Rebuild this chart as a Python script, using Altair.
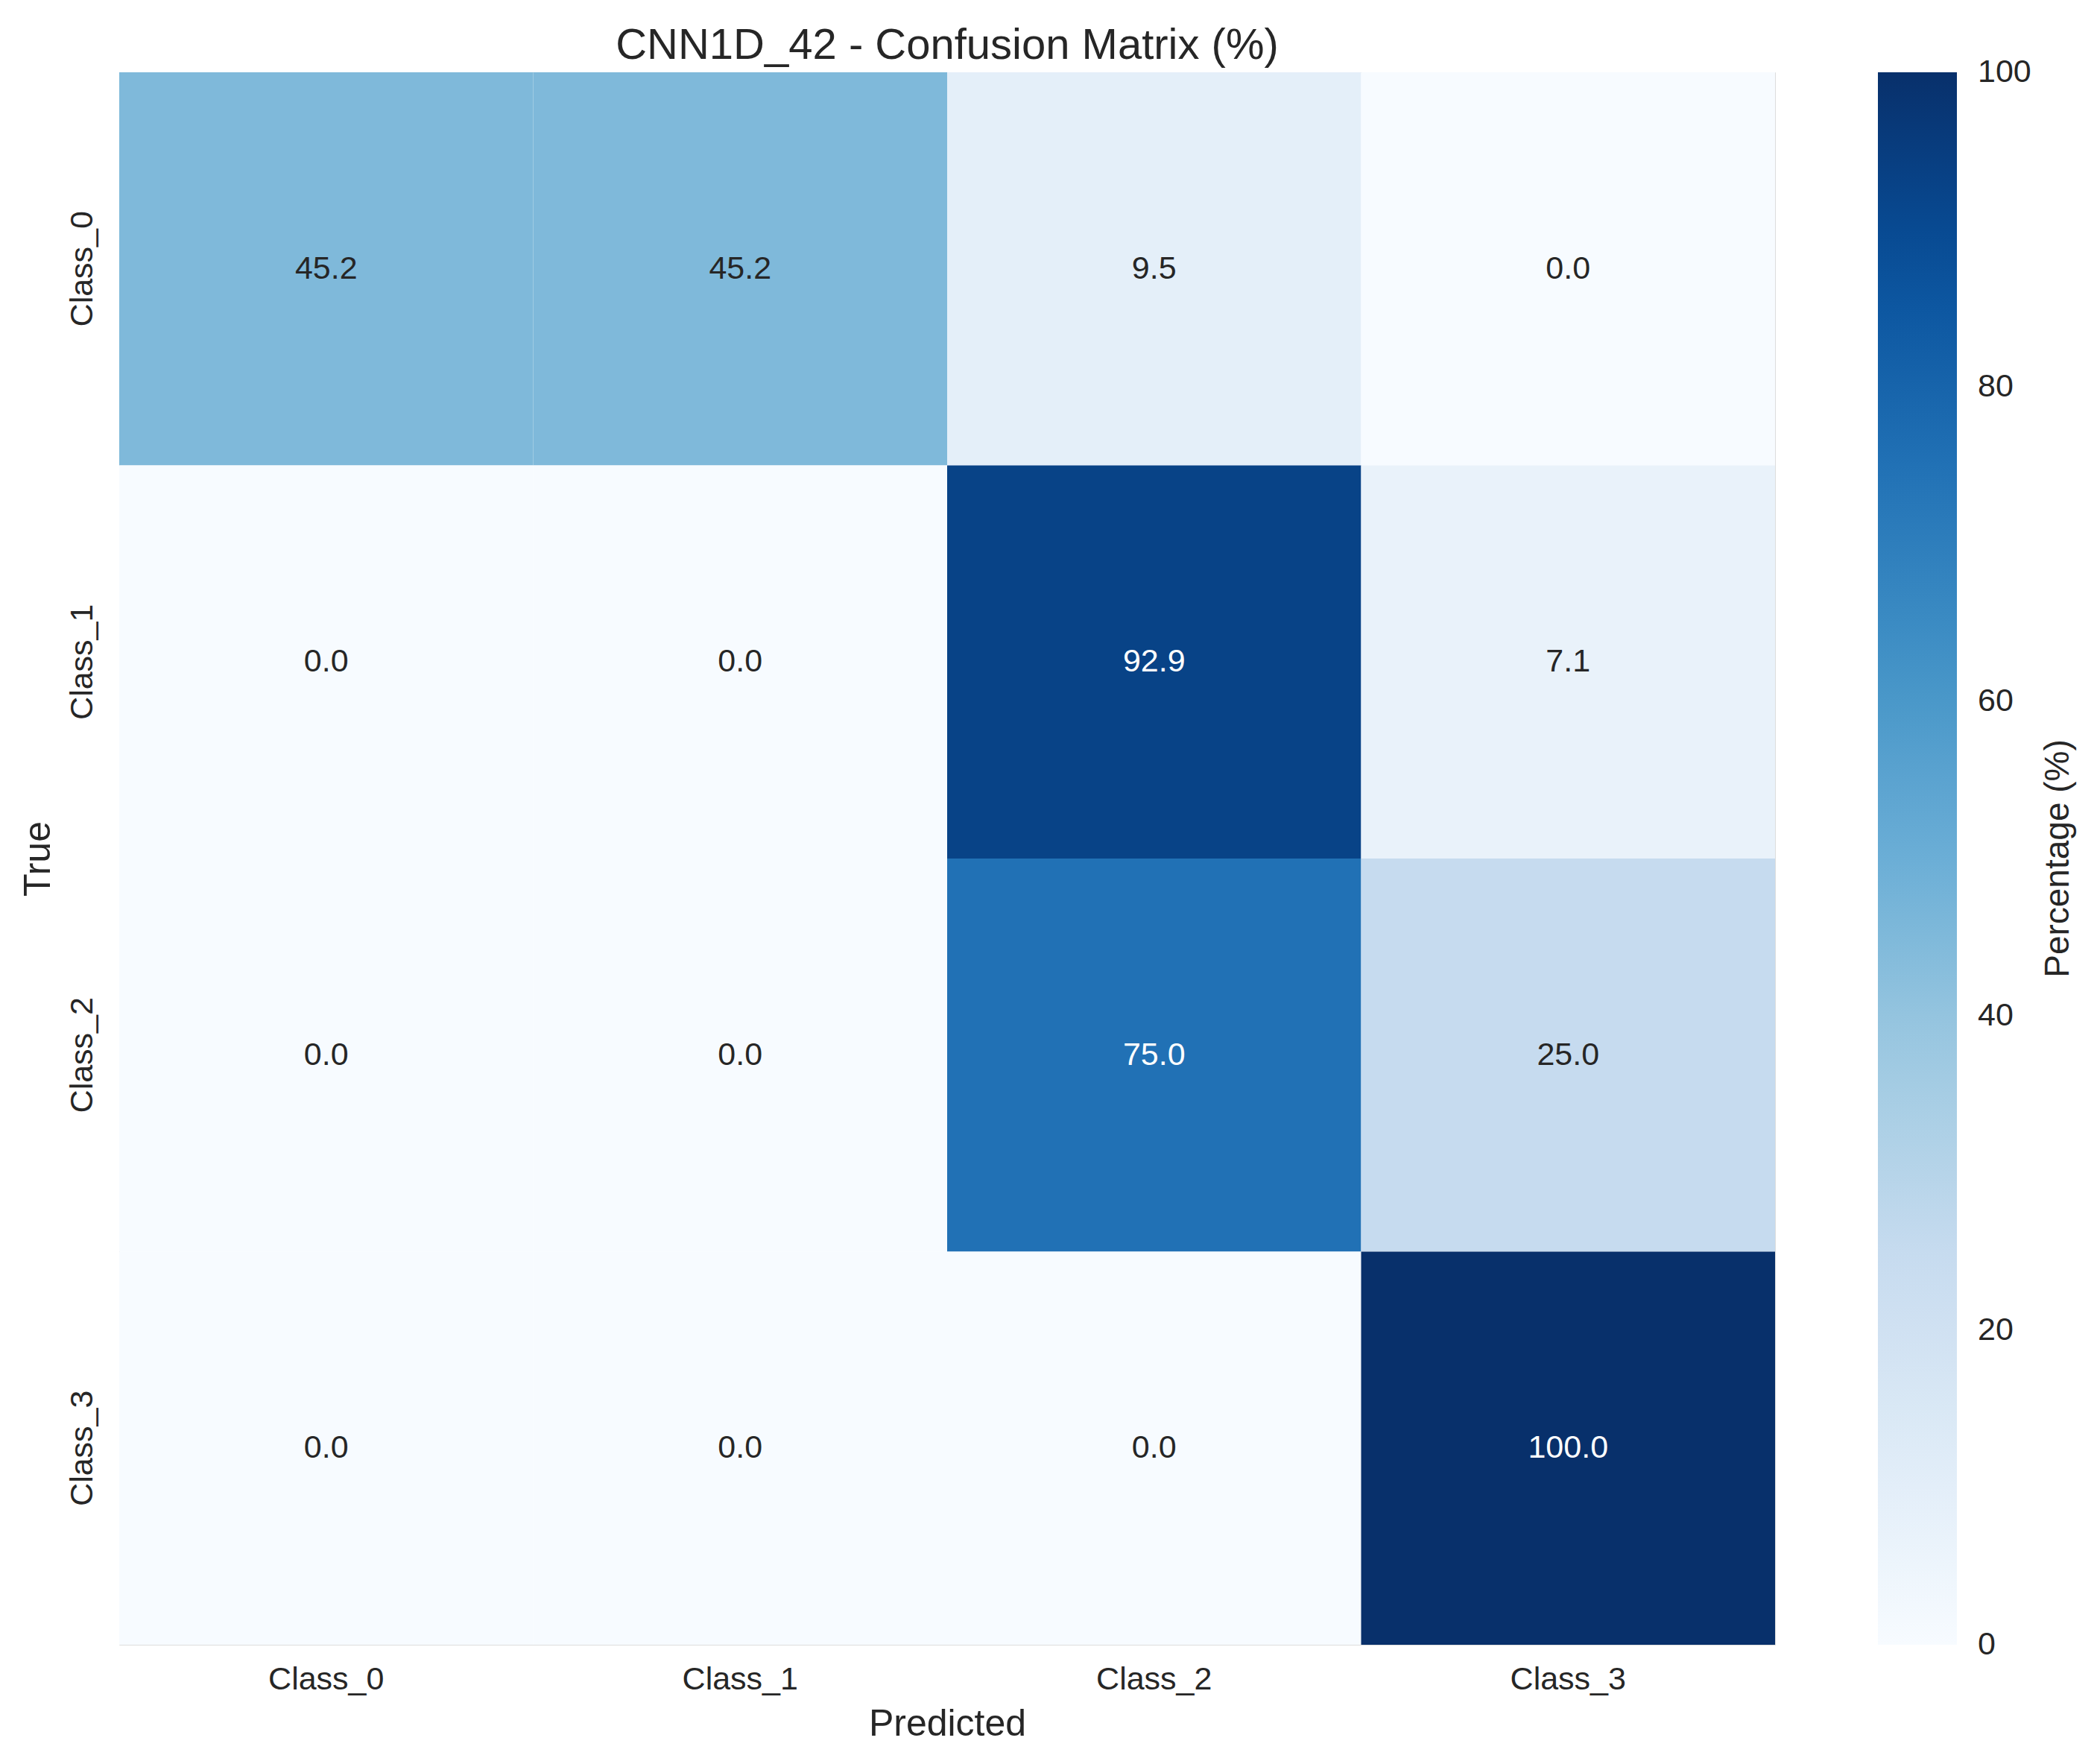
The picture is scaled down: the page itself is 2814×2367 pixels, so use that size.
import altair as alt
import pandas as pd

classes = ["Class_0", "Class_1", "Class_2", "Class_3"]
row_class_0 = [45.2, 45.2, 9.5, 0.0]
row_class_1 = [0.0, 0.0, 92.9, 7.1]
row_class_2 = [0.0, 0.0, 75.0, 25.0]
row_class_3 = [0.0, 0.0, 0.0, 100.0]
rows = [row_class_0, row_class_1, row_class_2, row_class_3]

colorbar_ticks = [0, 20, 40, 60, 80, 100]
colorbar_label = ["Percentage (%)"]
blues_stops = [0, 12.5, 25, 37.5, 50, 62.5, 75, 87.5, 100]
blues_colors = ["#f7fbff", "#deebf7", "#c6dbef", "#9ecae1", "#6baed6",
                "#4292c6", "#2171b5", "#08519c", "#08306b"]

records = []
for t, vals in zip(classes, rows):
    for p, v in zip(classes, vals):
        records.append({"True": t, "Predicted": p, "value": v})
df = pd.DataFrame(records)

# nudge end ticks a hair inside the domain so Vega centres them on the bar ends
legend_values = [min(max(v, 0.001), 99.999) for v in colorbar_ticks]

FONT = "Liberation Sans"
TXT = "#262626"

base = alt.Chart(df).encode(
    x=alt.X("Predicted:N", sort=classes,
            scale=alt.Scale(paddingInner=0, paddingOuter=0),
            axis=alt.Axis(title="Predicted", labelAngle=0, ticks=False, tickSize=0,
                          domain=False, grid=False, labelFontSize=43, titleFontSize=50,
                          labelPadding=25, titlePadding=13, labelColor=TXT, titleColor=TXT,
                          labelFont=FONT, titleFont=FONT, titleFontWeight="normal")),
    y=alt.Y("True:N", sort=classes,
            scale=alt.Scale(paddingInner=0, paddingOuter=0),
            axis=alt.Axis(title="True", labelAngle=270, ticks=False, tickSize=0,
                          domain=False, grid=False, labelFontSize=43, titleFontSize=50,
                          labelPadding=28, titlePadding=13, labelColor=TXT, titleColor=TXT,
                          labelFont=FONT, titleFont=FONT, titleFontWeight="normal",
                          labelAlign="center", labelBaseline="bottom")),
)

rects = base.mark_rect(strokeWidth=0).encode(
    color=alt.Color("value:Q",
                    scale=alt.Scale(domain=blues_stops, range=blues_colors, interpolate="rgb"),
                    legend=alt.Legend(title=None, orient="right", offset=138,
                                      padding=0, gradientLength=2110, gradientThickness=106,
                                      gradientStrokeWidth=0, values=legend_values, format=".0f",
                                      labelFontSize=43, labelOffset=28, labelColor=TXT,
                                      labelFont=FONT, labelOverlap=False,
                                      labelBaseline="middle", labelAlign="left"))
)

texts = base.mark_text(fontSize=43, font=FONT).encode(
    text=alt.Text("value:Q", format=".1f"),
    color=alt.condition(alt.datum.value >= 60, alt.value("#ffffff"), alt.value(TXT)),
)

cbar_title = alt.Chart(pd.DataFrame({"label": colorbar_label})).mark_text(
    fontSize=46, font=FONT, color=TXT, angle=270, align="center", baseline="top"
).encode(text="label:N", x=alt.value(2580), y=alt.value(1055))

chart = alt.layer(rects, texts, cbar_title).properties(
    width=2222, height=2110,
    title=alt.TitleParams("CNN1D_42 - Confusion Matrix (%)", fontSize=58, font=FONT,
                          color=TXT, fontWeight="normal", anchor="middle", offset=6),
    padding={"left": 152, "top": 89, "right": 410, "bottom": 140},
    autosize="none",
).configure_view(strokeWidth=0).configure(background="white")

chart.save("out.html", embed_options={"renderer": "svg", "actions": False})
